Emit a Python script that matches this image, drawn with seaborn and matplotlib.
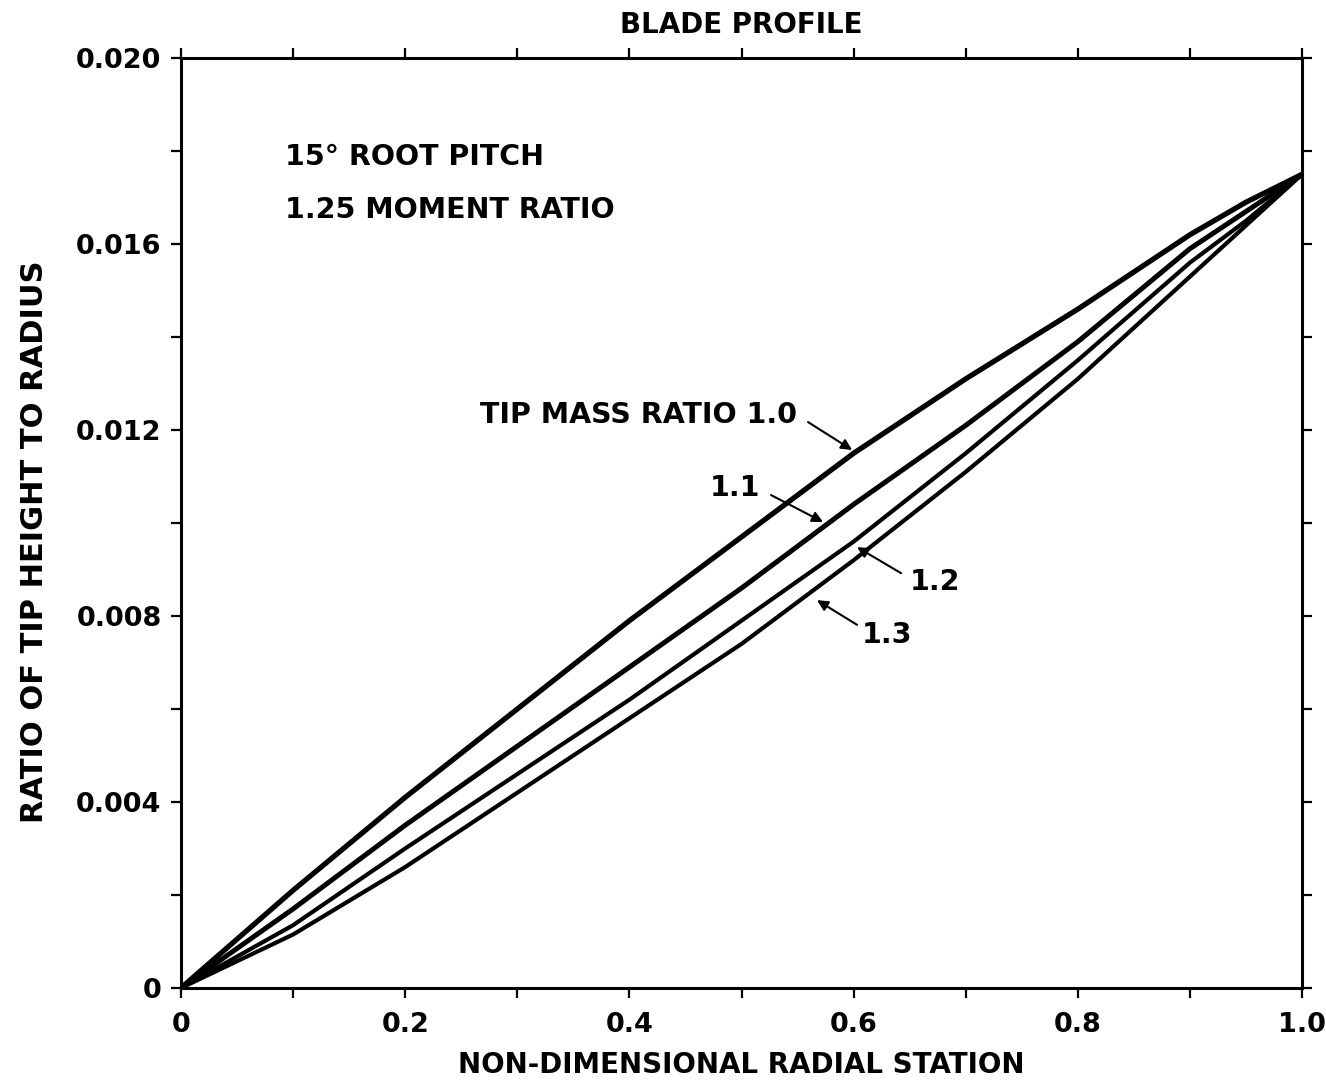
import pandas as pd
import seaborn as sns
from matplotlib import pyplot as plt
from matplotlib.ticker import MultipleLocator, FixedLocator

# values
station = [0, 0.1, 0.2, 0.3, 0.4, 0.5, 0.6, 0.7, 0.8, 0.9, 0.95, 1.0]
tip_10 = [0, 0.0021, 0.0041, 0.0060, 0.0079, 0.0097, 0.0115, 0.0131, 0.0146, 0.0162, 0.0169, 0.0175]
tip_11 = [0, 0.0017, 0.0035, 0.0052, 0.0069, 0.0086, 0.0104, 0.0121, 0.0139, 0.0159, 0.0167, 0.0175]
tip_12 = [0, 0.00135, 0.0030, 0.0046, 0.0062, 0.0079, 0.0096, 0.0115, 0.0135, 0.0156, 0.0165, 0.0175]
tip_13 = [0, 0.00115, 0.0026, 0.0042, 0.0058, 0.0074, 0.0092, 0.0111, 0.0131, 0.0153, 0.0164, 0.0175]

x_ticks = [0, 0.2, 0.4, 0.6, 0.8, 1.0]
x_labels = ['0', '0.2', '0.4', '0.6', '0.8', '1.0']
y_ticks = [0, 0.004, 0.008, 0.012, 0.016, 0.020]
y_labels = ['0', '0.004', '0.008', '0.012', '0.016', '0.020']

sns.set_style('ticks')
plt.rcParams['font.family'] = ['DejaVu Sans']
plt.rcParams['font.weight'] = 'bold'
plt.rcParams['text.color'] = 'black'
plt.rcParams['axes.labelcolor'] = 'black'
plt.rcParams['xtick.color'] = 'black'
plt.rcParams['ytick.color'] = 'black'

fig = plt.figure(figsize=(13.26, 10.84), dpi=100)
ax = fig.add_axes([0.1365, 0.0886, 0.8455, 0.8579])

series = [(tip_10, 3.8), (tip_11, 3.6), (tip_12, 3.0), (tip_13, 3.0)]
for vals, lw in series:
    sns.lineplot(x=station, y=vals, ax=ax, color='black', linewidth=lw, sort=False)

ax.set_xlim(0, 1.0)
ax.set_ylim(0, 0.020)
ax.xaxis.set_major_locator(FixedLocator(x_ticks))
ax.set_xticklabels(x_labels)
ax.yaxis.set_major_locator(FixedLocator(y_ticks))
ax.set_yticklabels(y_labels)
ax.xaxis.set_minor_locator(MultipleLocator(0.1))
ax.yaxis.set_minor_locator(MultipleLocator(0.002))
ax.tick_params(which='both', direction='out', length=7, width=1.6, color='black',
               top=True, right=True, labelsize=19.5, pad=7)
ax.tick_params(axis='x', pad=10)
for s in ax.spines.values():
    s.set_visible(True)
    s.set_linewidth(2.2)
    s.set_color('black')

ax.set_xlabel('NON-DIMENSIONAL RADIAL STATION', fontsize=20, fontweight='bold', labelpad=10)
ax.set_ylabel('RATIO OF TIP HEIGHT TO RADIUS', fontsize=22, fontweight='bold')
ax.yaxis.set_label_coords(-0.118, 0.48)
ax.set_title('BLADE PROFILE', fontsize=20, fontweight='bold', pad=18)

ax.text(0.093, 0.01787, '15° ROOT PITCH', fontsize=20.5, fontweight='bold', va='center')
ax.text(0.093, 0.01673, '1.25 MOMENT RATIO', fontsize=20.5, fontweight='bold', va='center')

# labels with leader arrows: text, text pos, align, arrow tail, arrow tip
labels = [
    ('TIP MASS RATIO 1.0', (0.5495, 0.01232), 'right', (0.5593, 0.01217), (0.5986, 0.01157)),
    ('1.1', (0.5165, 0.01075), 'right', (0.5263, 0.01060), (0.5727, 0.01002)),
    ('1.2', (0.6503, 0.00873), 'left', (0.6423, 0.00892), (0.6030, 0.00948)),
    ('1.3', (0.6075, 0.00759), 'left', (0.6030, 0.00781), (0.5673, 0.00834)),
]
for txt, pos, ha, tail, tip in labels:
    ax.text(pos[0], pos[1], txt, ha=ha, va='center', fontsize=20.5, fontweight='bold')
    ax.annotate('', xy=tip, xytext=tail,
                arrowprops=dict(arrowstyle='-|>', color='black', lw=1.5,
                                mutation_scale=16, shrinkA=0, shrinkB=0))

fig.savefig('out.png', dpi=100)
